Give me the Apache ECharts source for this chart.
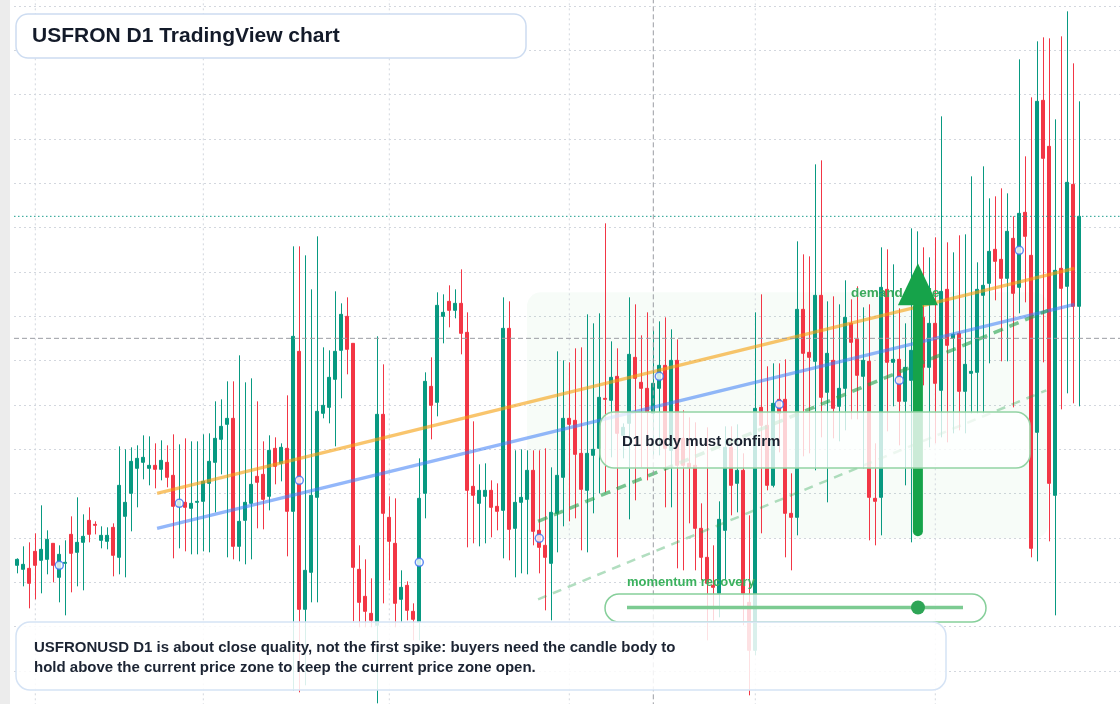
<!DOCTYPE html>
<html>
<head>
<meta charset="utf-8">
<title>USFRON D1</title>
<script src="https://cdn.jsdelivr.net/npm/echarts@6/dist/echarts.min.js"></script>
<style>
  html, body { margin: 0; padding: 0; background: #ffffff; }
  #chart { width: 1120px; height: 704px; }
</style>
</head>
<body>
<div id="chart"></div>
<script>
// ---- daily candles (price units are arbitrary, axis is hidden) ----
const startDate = '2025-01-29';
const monthStarts = ['2025-02-01', '2025-03-01', '2025-04-01', '2025-05-01', '2025-06-01', '2025-07-01'];

const opens = [
  1.50, 1.46, 1.47, 1.64, 1.55, 1.56, 1.72, 1.38, 1.52, 1.81,
  1.63, 1.73, 1.95, 1.91, 1.75, 1.74, 1.88, 1.58, 1.99, 2.22,
  2.47, 2.53, 2.47, 2.50, 2.46, 2.53, 2.40, 2.09, 2.13, 2.07,
  2.13, 2.14, 2.32, 2.53, 2.76, 2.91, 2.97, 1.69, 1.95, 2.12,
  2.39, 2.41, 2.19, 2.67, 2.52, 2.67, 2.04, 3.64, 1.06, 1.43,
  2.18, 3.02, 3.08, 3.36, 3.65, 3.99, 3.72, 1.46, 1.19, 1.02,
  0.90, 3.01, 1.98, 1.72, 1.16, 1.30, 1.04, 0.93, 2.22, 3.29,
  3.13, 3.99, 4.14, 4.05, 4.12, 3.83, 2.29, 2.12, 2.19, 2.25,
  2.09, 2.05, 3.87, 1.87, 2.13, 2.16, 2.45, 1.85, 1.70, 1.52,
  2.02, 2.38, 2.97, 2.95, 2.62, 2.25, 2.60, 2.67, 3.17, 3.15,
  3.39, 2.80, 2.92, 3.58, 3.33, 3.27, 3.02, 3.27, 3.50, 2.65,
  3.55, 2.77, 2.52, 2.50, 1.87, 1.58, 1.30, 1.22, 1.85, 2.68,
  2.32, 2.45, 1.13, 0.65, 3.08, 2.90, 2.30, 3.16, 3.16, 2.02,
  1.98, 4.06, 3.63, 3.54, 4.20, 3.23, 3.55, 3.09, 3.27, 3.92,
  3.76, 3.39, 3.54, 2.17, 2.18, 4.26, 3.53, 3.56, 3.14, 3.35,
  3.64, 3.98, 3.48, 3.92, 3.25, 4.26, 3.77, 3.82, 3.24, 3.42,
  3.43, 4.20, 4.32, 4.66, 4.56, 4.37, 4.77, 4.28, 5.03, 4.60,
  2.83, 6.15, 5.69, 2.20, 4.47, 4.29, 5.31, 4.09
];
const closes = [
  1.56, 1.51, 1.32, 1.50, 1.66, 1.76, 1.50, 1.61, 1.53, 1.62,
  1.73, 1.79, 1.81, 1.90, 1.80, 1.80, 1.60, 2.30, 2.13, 2.54,
  2.57, 2.58, 2.50, 2.46, 2.55, 2.38, 2.09, 2.14, 2.08, 2.12,
  2.14, 2.34, 2.54, 2.77, 2.89, 2.97, 1.69, 1.94, 2.13, 2.31,
  2.33, 2.16, 2.65, 2.49, 2.68, 2.04, 3.79, 1.06, 1.45, 2.20,
  3.04, 3.10, 3.38, 3.64, 4.01, 3.66, 1.48, 1.13, 1.04, 0.95,
  3.01, 2.02, 1.74, 1.12, 1.28, 1.05, 0.96, 2.17, 3.34, 3.10,
  4.10, 4.03, 4.05, 4.12, 3.82, 2.25, 2.20, 2.25, 2.25, 2.08,
  2.04, 3.87, 1.86, 2.13, 2.18, 2.45, 1.84, 1.68, 1.58, 2.03,
  2.40, 2.97, 2.91, 2.61, 2.26, 2.62, 2.66, 3.18, 3.16, 3.38,
  2.82, 2.88, 3.61, 3.37, 3.27, 3.03, 3.32, 3.50, 2.67, 3.55,
  2.50, 2.50, 2.48, 1.87, 1.58, 1.32, 1.28, 1.96, 2.68, 2.30,
  2.45, 1.22, 0.65, 3.07, 2.90, 2.30, 3.12, 3.02, 2.02, 1.98,
  4.06, 3.62, 3.58, 4.20, 3.18, 3.62, 3.07, 3.27, 3.98, 3.73,
  3.40, 3.55, 2.18, 2.14, 4.28, 3.53, 3.56, 3.14, 3.48, 3.65,
  3.95, 3.48, 3.92, 3.32, 4.24, 3.70, 3.81, 3.24, 3.51, 3.44,
  4.26, 4.30, 4.64, 4.54, 4.37, 4.84, 4.22, 5.02, 4.79, 1.67,
  6.14, 5.57, 2.32, 4.45, 4.27, 5.33, 4.09, 4.99
];
const lows = [
  1.42, 1.29, 1.07, 1.16, 1.22, 1.41, 1.33, 1.13, 1.00, 1.23,
  1.29, 1.25, 1.73, 1.81, 1.67, 1.66, 1.39, 1.41, 1.38, 1.84,
  2.08, 2.36, 2.30, 2.27, 2.35, 2.28, 1.57, 1.67, 1.64, 1.61,
  1.61, 1.64, 1.63, 2.03, 2.41, 1.58, 1.56, 1.54, 1.51, 1.56,
  1.87, 1.86, 2.05, 2.31, 2.34, 1.59, 0.25, 0.23, 0.30, 1.13,
  1.13, 2.97, 2.92, 2.69, 3.17, 3.41, 0.94, 0.88, 0.88, 0.88,
  0.12, 1.12, 1.35, 0.88, 0.93, 0.95, 0.75, 0.75, 1.97, 2.76,
  2.99, 3.72, 3.88, 3.97, 3.61, 1.68, 1.72, 1.69, 1.72, 1.78,
  1.85, 1.57, 1.55, 1.38, 1.42, 1.41, 1.70, 1.42, 1.05, 0.95,
  1.63, 1.89, 1.94, 1.97, 1.65, 1.63, 2.02, 2.22, 2.23, 2.58,
  1.58, 2.57, 1.96, 2.15, 2.48, 2.35, 2.60, 2.60, 2.08, 2.08,
  1.47, 1.45, 1.92, 1.45, 1.35, 0.75, 0.95, 0.98, 1.35, 2.00,
  2.03, 0.90, 0.20, 0.60, 1.82, 2.25, 2.28, 2.63, 1.58, 1.45,
  1.80, 2.59, 2.62, 2.45, 2.78, 2.13, 2.77, 2.74, 2.85, 2.96,
  2.96, 2.47, 1.75, 1.70, 1.80, 2.84, 3.09, 2.70, 2.30, 1.73,
  2.95, 3.30, 2.68, 2.72, 2.78, 2.73, 2.82, 2.85, 2.82, 3.02,
  3.02, 3.02, 3.52, 4.15, 3.54, 3.54, 3.08, 4.02, 4.13, 1.58,
  1.54, 3.53, 1.74, 1.00, 3.06, 3.22, 3.12, 3.09
];
const highs = [
  1.57, 1.69, 1.73, 1.82, 2.10, 1.85, 1.72, 1.70, 1.75, 1.99,
  2.18, 2.01, 2.08, 1.94, 1.89, 1.88, 1.92, 2.69, 2.66, 2.68,
  2.70, 2.80, 2.79, 2.72, 2.75, 2.70, 2.81, 2.71, 2.77, 2.74,
  2.74, 2.81, 2.82, 3.14, 3.16, 3.34, 3.34, 3.60, 3.33, 3.37,
  3.14, 2.74, 2.80, 2.78, 2.72, 3.20, 4.69, 4.69, 4.60, 4.26,
  4.79, 3.68, 3.65, 4.24, 4.12, 4.18, 3.72, 1.70, 1.56, 1.37,
  3.79, 3.51, 2.19, 2.17, 1.45, 1.34, 1.12, 2.57, 3.43, 3.58,
  4.23, 4.21, 4.30, 4.26, 4.46, 4.03, 2.94, 2.51, 2.52, 2.35,
  2.32, 4.18, 4.14, 2.65, 2.66, 2.65, 2.65, 2.65, 2.67, 2.48,
  3.64, 3.55, 3.53, 3.67, 3.68, 4.01, 3.92, 4.02, 4.92, 3.74,
  3.67, 2.92, 4.18, 4.11, 3.80, 4.03, 3.85, 3.94, 3.98, 3.86,
  3.76, 3.05, 2.98, 2.93, 2.12, 2.88, 1.70, 2.14, 2.89, 2.89,
  2.91, 2.62, 2.00, 4.03, 4.21, 3.49, 3.52, 3.52, 3.56, 2.42,
  4.74, 4.61, 4.59, 5.51, 5.55, 4.14, 4.19, 4.11, 4.35, 4.16,
  4.29, 4.08, 4.11, 2.72, 4.68, 4.66, 4.51, 4.07, 3.92, 4.87,
  4.84, 4.68, 4.58, 4.78, 5.99, 4.73, 4.63, 4.80, 4.81, 5.39,
  4.53, 5.49, 5.17, 5.19, 5.27, 5.22, 4.99, 6.56, 5.59, 6.18,
  6.74, 6.78, 6.77, 5.96, 6.79, 7.04, 6.52, 6.14
];

// blue ring markers (every 20th bar)
const markerIdx = [7, 27, 47, 67, 87, 107, 127, 147, 167];
const markerVals = [1.50, 2.12, 2.35, 1.53, 1.77, 3.39, 3.11, 3.35, 4.65];

// drawn tools: [bar index, price]
const orangeTrend = [[23.3, 2.22], [176.2, 4.47]];
const blueTrend = [[23.3, 1.87], [176.2, 4.11]];
const greenDash = [[86.8, 1.94], [171.8, 4.05]];
const greenDashLight = [[86.8, 1.16], [171.5, 3.25]];

const lastPrice = 4.99;
const crossPrice = 3.77;
const crossIdx = 106;

const zoneIdx = [84.95, 171.8];
const zonePrice = [4.23, 1.77];
const arrowIdx = 150.1;
const arrowTail = 1.84;
const arrowBase = 4.10;
const arrowTip = 4.52;
const demandLabel = [138.95, 4.22];

const UP = '#089981';
const DOWN = '#f23645';
const DAY = 86400000;
const t0 = Date.parse(startDate + 'T00:00:00Z');
const dayTime = i => t0 + i * DAY;
const toTime = s => Date.parse(s + 'T00:00:00Z');

// plot spans 14..1120 px, 6 px per day, first bar centred at 17.3 px
const xMin = dayTime(-0.55);
const xMax = xMin + (1106 / 6) * DAY;
const yStep = 0.4433;
const yMin = 0;
const yMax = yStep * 17;

const candles = opens.map((o, i) => [dayTime(i), o, closes[i], lows[i], highs[i]]);
const asLine = pts => pts.map(p => [dayTime(p[0]), p[1]]);

const gridLines = monthStarts.map(d => ({
  type: 'line', z: 1, silent: true, symbol: 'none', animation: false,
  lineStyle: { color: '#d3d7de', width: 1, type: [2, 3] },
  data: [[toTime(d), yMin], [toTime(d), yMax]]
}));

const option = {
  animation: false,
  useUTC: true,
  backgroundColor: '#ffffff',
  grid: { left: 14, top: -38.28, width: 1106, height: 753.61, outerBoundsMode: 'none', containLabel: false },
  xAxis: { type: 'time', min: xMin, max: xMax, show: false },
  yAxis: {
    type: 'value', min: yMin, max: yMax, interval: yStep,
    axisLine: { show: false }, axisTick: { show: false }, axisLabel: { show: false },
    splitLine: { show: true, showMinLine: false, showMaxLine: false, lineStyle: { color: '#d3d7de', width: 1, type: [2, 3] } }
  },
  series: [
    ...gridLines,
    {
      type: 'candlestick', z: 2, barWidth: 3.8, clip: false,
      itemStyle: { color: UP, color0: DOWN, borderColor: UP, borderColor0: DOWN, borderWidth: 1 },
      data: candles.map(c => ({ value: c }))
    },
    {
      type: 'line', z: 3, symbol: 'none', silent: true,
      lineStyle: { color: '#f59e0b', width: 3.5, opacity: 0.6 },
      data: asLine(orangeTrend)
    },
    {
      type: 'line', z: 3, symbol: 'none', silent: true,
      lineStyle: { color: '#3b7bf6', width: 3.5, opacity: 0.55 },
      data: asLine(blueTrend)
    },
    {
      type: 'line', z: 3, symbol: 'none', silent: true,
      lineStyle: { color: '#22a04b', width: 3.5, opacity: 0.6, type: [10, 7] },
      data: asLine(greenDash)
    },
    {
      type: 'line', z: 3, symbol: 'none', silent: true,
      lineStyle: { color: '#22a04b', width: 2.5, opacity: 0.35, type: [9, 7] },
      data: asLine(greenDashLight)
    },
    {
      // last price
      type: 'line', z: 3, symbol: 'none', silent: true,
      lineStyle: { color: '#1f9e8e', width: 1, type: [1.5, 2.5] },
      data: [[xMin, lastPrice], [xMax, lastPrice]]
    },
    {
      // crosshair
      type: 'line', z: 3, symbol: 'none', silent: true,
      lineStyle: { color: '#9a9da3', width: 1, type: [5, 3] },
      data: [[xMin, crossPrice], [xMax, crossPrice]]
    },
    {
      type: 'line', z: 3, symbol: 'none', silent: true,
      lineStyle: { color: '#9a9da3', width: 1, type: [5, 3] },
      data: [[dayTime(crossIdx), yMin], [dayTime(crossIdx), yMax]]
    },
    {
      type: 'scatter', z: 4, symbol: 'circle', symbolSize: 8, silent: true,
      itemStyle: { color: '#ffffff', borderColor: '#3b6ff0', borderWidth: 1.5 },
      data: markerIdx.map((i, k) => [dayTime(i), markerVals[k]])
    }
  ]
};

const chart = echarts.init(document.getElementById('chart'), null, { renderer: 'canvas' });
chart.setOption(option);

const px = (i, p) => chart.convertToPixel({ gridIndex: 0 }, [dayTime(i), p]);
const FONT = '"Liberation Sans", Arial, Helvetica, sans-serif';

function buildGraphics() {
  const z1 = px(zoneIdx[0], zonePrice[0]);
  const z2 = px(zoneIdx[1], zonePrice[1]);
  const tail = px(arrowIdx, arrowTail);
  const base = px(arrowIdx, arrowBase);
  const tip = px(arrowIdx, arrowTip);
  const lab = px(demandLabel[0], demandLabel[1]);

  return [
    { type: 'rect', z: 0, silent: true, shape: { x: 0, y: 0, width: 10, height: 704 }, style: { fill: '#ececec' } },
    {
      type: 'rect', z: 1, silent: true,
      shape: { x: z1[0], y: z1[1], width: z2[0] - z1[0], height: z2[1] - z1[1], r: 14 },
      style: { fill: 'rgba(34,160,70,0.035)' }
    },
    {
      type: 'text', z: 4, silent: true,
      style: { x: lab[0], y: lab[1], text: 'demand trade', font: 'bold 13.5px ' + FONT, fill: '#3aaa5c', verticalAlign: 'middle' }
    },
    // arrow
    {
      type: 'line', z: 5, silent: true,
      shape: { x1: tail[0], y1: tail[1], x2: base[0], y2: base[1] + 2 },
      style: { stroke: '#16a34a', lineWidth: 10, lineCap: 'round' }
    },
    {
      type: 'polygon', z: 5, silent: true,
      shape: { points: [[tip[0], tip[1]], [base[0] - 20, base[1]], [base[0] + 20, base[1]]] },
      style: { fill: '#16a34a' }
    },
    // confirm box
    {
      type: 'rect', z: 6, silent: true,
      shape: { x: 600, y: 412, width: 430, height: 56, r: 14 },
      style: { fill: 'rgba(255,255,255,0.78)', stroke: '#93d3a4', lineWidth: 1.5 }
    },
    {
      type: 'text', z: 6, silent: true,
      style: { x: 622, y: 441.5, text: 'D1 body must confirm', font: 'bold 15px ' + FONT, fill: '#1b2230', verticalAlign: 'middle' }
    },
    // momentum gauge
    {
      type: 'text', z: 6, silent: true,
      style: { x: 627, y: 582.5, text: 'momentum recovery', font: 'bold 13px ' + FONT, fill: '#3bb15e', verticalAlign: 'middle' }
    },
    {
      type: 'rect', z: 6, silent: true,
      shape: { x: 605, y: 594, width: 381, height: 28, r: 14 },
      style: { fill: 'rgba(255,255,255,0.8)', stroke: '#86cf9a', lineWidth: 1.5 }
    },
    {
      type: 'line', z: 6, silent: true,
      shape: { x1: 627, y1: 607.5, x2: 963, y2: 607.5 },
      style: { stroke: '#7ccb92', lineWidth: 3.5 }
    },
    { type: 'circle', z: 6, silent: true, shape: { cx: 918, cy: 607.5, r: 7 }, style: { fill: '#2ea556' } },
    // note box
    {
      type: 'rect', z: 7, silent: true,
      shape: { x: 16, y: 622, width: 930, height: 68, r: 14 },
      style: { fill: 'rgba(255,255,255,0.85)', stroke: '#d5e3f5', lineWidth: 1.5 }
    },
    {
      type: 'text', z: 7, silent: true,
      style: { x: 34, y: 648, text: 'USFRONUSD D1 is about close quality, not the first spike: buyers need the candle body to', font: 'bold 15px ' + FONT, fill: '#1c2433', verticalAlign: 'middle' }
    },
    {
      type: 'text', z: 7, silent: true,
      style: { x: 34, y: 668, text: 'hold above the current price zone to keep the current price zone open.', font: 'bold 15px ' + FONT, fill: '#1c2433', verticalAlign: 'middle' }
    },
    // title
    {
      type: 'rect', z: 8, silent: true,
      shape: { x: 16, y: 14, width: 510, height: 44, r: 12 },
      style: { fill: '#ffffff', stroke: '#cddcf1', lineWidth: 1.5 }
    },
    {
      type: 'text', z: 8, silent: true,
      style: { x: 32, y: 36, text: 'USFRON D1 TradingView chart', font: 'bold 21px ' + FONT, fill: '#131a29', verticalAlign: 'middle' }
    }
  ];
}

chart.setOption({ graphic: buildGraphics() });
</script>
</body>
</html>
